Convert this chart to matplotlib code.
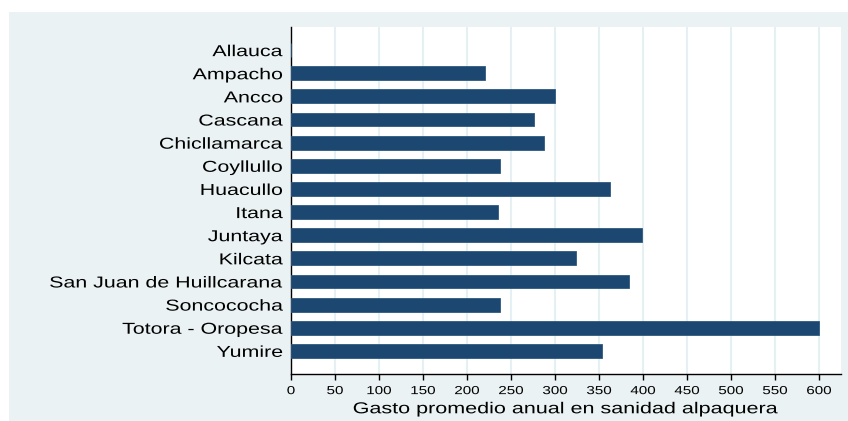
import matplotlib
matplotlib.use("Agg")
import matplotlib.pyplot as plt
from matplotlib.patches import Rectangle
from matplotlib.patheffects import AbstractPathEffect
from matplotlib.transforms import Affine2D

categories = ["Allauca", "Ampacho", "Ancco", "Cascana", "Chicllamarca", "Coyllullo",
              "Huacullo", "Itana", "Juntaya", "Kilcata", "San Juan de Huillcarana",
              "Soncococha", "Totora - Oropesa", "Yumire"]
values = [0, 220, 300, 276, 288, 238, 362, 235, 399, 324, 384, 238, 600, 353]
xticks = list(range(0, 601, 50))
xlabel = "Gasto promedio anual en sanidad alpaquera"

plt.rcParams['font.family'] = ['Liberation Sans', 'DejaVu Sans']


class HStretch(AbstractPathEffect):
    """Stretch text horizontally about an anchor (the reference text is wide)."""
    def __init__(self, sx, anchor="center"):
        super().__init__()
        self.sx = sx
        self.anchor = anchor

    def draw_path(self, renderer, gc, tpath, affine, rgbFace=None):
        ext = tpath.get_extents()
        if self.anchor == "right":
            x0 = ext.x1
        elif self.anchor == "left":
            x0 = ext.x0
        else:
            x0 = (ext.x0 + ext.x1) / 2
        t = Affine2D().translate(-x0, 0).scale(self.sx, 1).translate(x0, 0)
        renderer.draw_path(gc, tpath, t + affine, rgbFace)


W, H = 848, 421
fig = plt.figure(figsize=(W / 100, H / 100), dpi=100)
fig.patch.set_facecolor("white")
bg = "#eaf2f3"
fig.patches.append(Rectangle((9 / W, 0), (W - 9) / W, (H - 12) / H,
                             transform=fig.transFigure, facecolor=bg,
                             edgecolor="none", zorder=-10))

left, right, top, bottom = 291, 841, 27, 374
ax = fig.add_axes([left / W, 1 - bottom / H, (right - left) / W, (bottom - top) / H])
ax.set_facecolor("white")

pos = list(range(len(categories)))
ax.barh(pos, values, height=0.6, color="#1c4770", edgecolor="#2d5a80",
        linewidth=0.6, zorder=3)

ax.set_ylim(len(categories), -1)
ax.set_xlim(0, 625)
ax.set_yticks(pos)
ax.set_yticklabels(categories, fontsize=11.4)
ax.set_xticks(xticks)
ax.set_xticklabels([str(t) for t in xticks], fontsize=8.4)
ax.tick_params(axis="y", length=0, pad=5.8)
ax.tick_params(axis="x", length=4, width=1, pad=4, direction="out")
ax.xaxis.grid(True, color="#e6eff1", linewidth=1.5, zorder=0)
ax.set_axisbelow(True)

for s in ["top", "right"]:
    ax.spines[s].set_visible(False)
for s in ["left", "bottom"]:
    ax.spines[s].set_color("black")
    ax.spines[s].set_linewidth(1)

xl = ax.set_xlabel(xlabel, fontsize=11.4, labelpad=3)
xl.set_path_effects([HStretch(1.36, "center")])
for lbl in ax.get_yticklabels():
    lbl.set_path_effects([HStretch(1.35, "right")])
for lbl in ax.get_xticklabels():
    lbl.set_path_effects([HStretch(1.3, "center")])

fig.savefig("out.png", dpi=100, facecolor=fig.get_facecolor())
